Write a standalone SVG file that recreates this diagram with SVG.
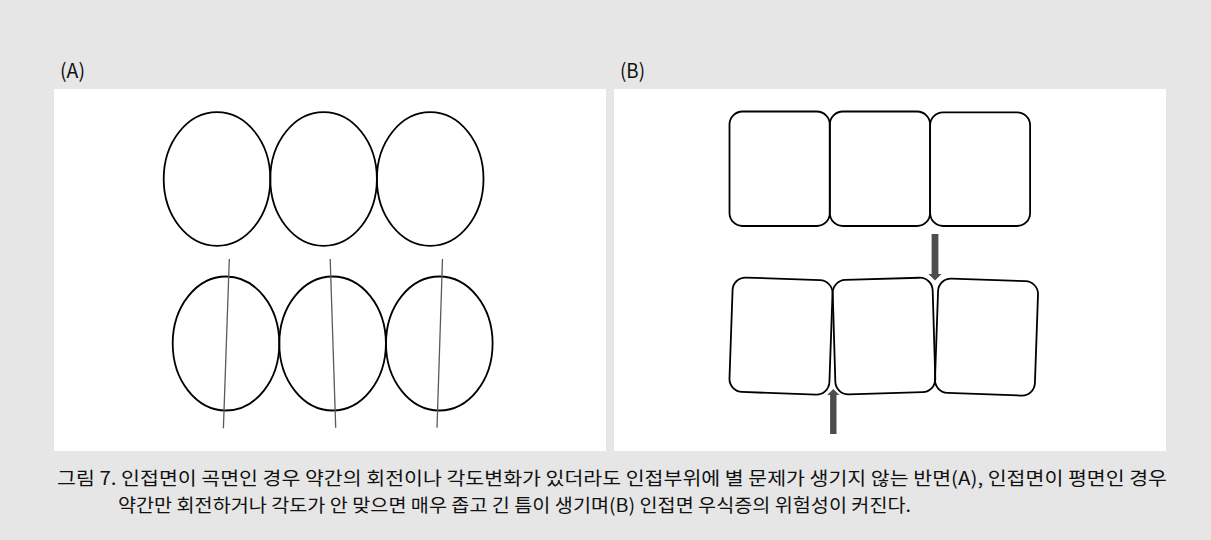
<svg xmlns="http://www.w3.org/2000/svg" width="1211" height="540" viewBox="0 0 1211 540">
  <style>
    .panel { fill: #ffffff; stroke: none; }
    .shape { fill: none; stroke: #000000; stroke-width: 1.8; }
    .axis { stroke: #5a5a5a; stroke-width: 1.3; fill: none; }
    .arrow { fill: #4d4d4d; stroke: none; }
    .txt { font-family: "Noto Sans CJK KR", "Noto Sans", sans-serif; font-size: 18.5px; fill: #111111; }
    .lbl { font-family: "Noto Sans CJK KR", "Noto Sans", sans-serif; font-size: 20px; fill: #111111; }
  </style>
  <rect x="0" y="0" width="1211" height="540" fill="#e6e6e6"/>

  <rect class="panel" x="54" y="89" width="552" height="362"/>
  <rect class="panel" x="614" y="89" width="552" height="362"/>

  <text class="lbl" x="60" y="78" textLength="25" lengthAdjust="spacingAndGlyphs">(A)</text>
  <text class="lbl" x="620" y="78" textLength="25" lengthAdjust="spacingAndGlyphs">(B)</text>

  <!-- Panel A: top row of ellipses -->
  <g id="a-top-1"><ellipse class="shape" cx="217" cy="179" rx="53.3" ry="66.8"/></g>
  <g id="a-top-2"><ellipse class="shape" cx="323.6" cy="179" rx="53.3" ry="66.8"/></g>
  <g id="a-top-3"><ellipse class="shape" cx="430.2" cy="179" rx="53.3" ry="66.8"/></g>

  <!-- Panel A: bottom row of ellipses -->
  <g id="a-bot-1"><ellipse class="shape" cx="226" cy="343.5" rx="53.3" ry="67"/></g>
  <g id="a-bot-2"><ellipse class="shape" cx="332.6" cy="343.5" rx="53.3" ry="67"/></g>
  <g id="a-bot-3"><ellipse class="shape" cx="439.3" cy="343.5" rx="53.3" ry="67"/></g>

  <!-- Panel B: top row of rounded squares -->
  <g id="b-top-1"><rect class="shape" x="729.5" y="111.5" width="100.3" height="114.5" rx="13" ry="13"/></g>
  <g id="b-top-2"><rect class="shape" x="829.8" y="111.5" width="100.3" height="114.5" rx="13" ry="13"/></g>
  <g id="b-top-3"><rect class="shape" x="930.1" y="112.3" width="100" height="113.7" rx="13" ry="13"/></g>

  <!-- Panel B: bottom row, slightly rotated -->
  <g id="b-bot-1"><rect class="shape" x="731" y="278.8" width="100" height="114.5" rx="13" ry="13" transform="rotate(2 781 336)"/></g>
  <g id="b-bot-2"><rect class="shape" x="834" y="278.8" width="100" height="114.5" rx="13" ry="13" transform="rotate(-1.7 884 336)"/></g>
  <g id="b-bot-3"><rect class="shape" x="936.5" y="279.8" width="100" height="114.5" rx="13" ry="13" transform="rotate(2 986.5 337)"/></g>

  <g id="connectors">
    <line class="axis" x1="229.3" y1="259" x2="223.4" y2="428.3"/>
    <line class="axis" x1="330.2" y1="259" x2="335.7" y2="427.7"/>
    <line class="axis" x1="442.5" y1="259" x2="437" y2="427.7"/>
    <path class="arrow" d="M931.6 234 H938.4 V274 H941.5 L935 280.5 L928.5 274 H931.6 Z"/>
    <path class="arrow" d="M830.1 434 H836.5 V395 H839.4 L833.3 389 L827.2 395 H830.1 Z"/>
  </g>

  <text class="txt" x="57" y="484.5" textLength="1110" lengthAdjust="spacingAndGlyphs">그림 7. 인접면이 곡면인 경우 약간의 회전이나 각도변화가 있더라도 인접부위에 별 문제가 생기지 않는 반면(A), 인접면이 평면인 경우</text>
  <text class="txt" x="118" y="511.5" textLength="793" lengthAdjust="spacingAndGlyphs">약간만 회전하거나 각도가 안 맞으면 매우 좁고 긴 틈이 생기며(B) 인접면 우식증의 위험성이 커진다.</text>
</svg>
